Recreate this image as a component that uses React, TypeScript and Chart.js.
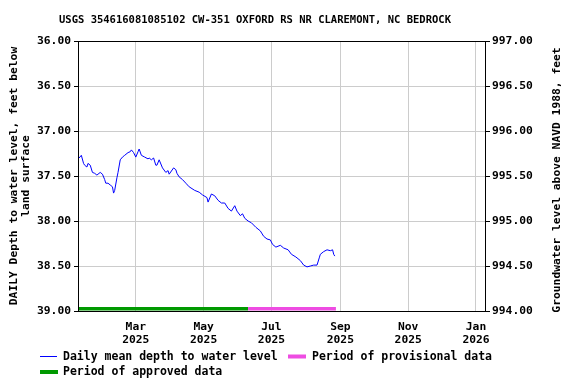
import React, { useEffect, useRef } from 'react';
import { Chart, registerables } from 'chart.js';

Chart.register(...registerables);

// ---- Data ----
const titleText = 'USGS 354616081085102 CW-351 OXFORD RS NR CLAREMONT, NC BEDROCK';
const leftAxisTitle = ['DAILY Depth to water level, feet below', 'land surface'];
const rightAxisTitle = 'Groundwater level above NAVD 1988, feet';

const dates = [
  '2025-01-09', '2025-01-11', '2025-01-13', '2025-01-14', '2025-01-16', '2025-01-17', '2025-01-19', '2025-01-21',
  '2025-01-23', '2025-01-25', '2025-01-28', '2025-01-30', '2025-02-01', '2025-02-02', '2025-02-04', '2025-02-06',
  '2025-02-08', '2025-02-09', '2025-02-10', '2025-02-12', '2025-02-13', '2025-02-15', '2025-02-17', '2025-02-19',
  '2025-02-22', '2025-02-24', '2025-02-25', '2025-02-27', '2025-03-01', '2025-03-03', '2025-03-04', '2025-03-06',
  '2025-03-09', '2025-03-12', '2025-03-13', '2025-03-15', '2025-03-17', '2025-03-19', '2025-03-20', '2025-03-22',
  '2025-03-25', '2025-03-28', '2025-03-30', '2025-03-31', '2025-04-04', '2025-04-06', '2025-04-07', '2025-04-09',
  '2025-04-12', '2025-04-15', '2025-04-18', '2025-04-23', '2025-04-27', '2025-04-30', '2025-05-04', '2025-05-05',
  '2025-05-08', '2025-05-11', '2025-05-14', '2025-05-17', '2025-05-20', '2025-05-23', '2025-05-26', '2025-05-29',
  '2025-05-31', '2025-06-03', '2025-06-05', '2025-06-07', '2025-06-10', '2025-06-13', '2025-06-17', '2025-06-21',
  '2025-06-24', '2025-06-27', '2025-06-30', '2025-07-02', '2025-07-05', '2025-07-09', '2025-07-12', '2025-07-16',
  '2025-07-19', '2025-07-23', '2025-07-27', '2025-07-30', '2025-08-02', '2025-08-05', '2025-08-08', '2025-08-11',
  '2025-08-13', '2025-08-14', '2025-08-17', '2025-08-20', '2025-08-23', '2025-08-25', '2025-08-26', '2025-08-27',
];
const depths = [
  37.30, 37.27, 37.36, 37.38, 37.40, 37.36, 37.38, 37.46,
  37.47, 37.49, 37.46, 37.48, 37.54, 37.58, 37.58, 37.60,
  37.62, 37.69, 37.66, 37.52, 37.46, 37.32, 37.29, 37.27,
  37.24, 37.23, 37.21, 37.24, 37.29, 37.23, 37.20, 37.27,
  37.29, 37.31, 37.30, 37.32, 37.30, 37.38, 37.38, 37.32,
  37.41, 37.46, 37.44, 37.48, 37.41, 37.43, 37.47, 37.51,
  37.54, 37.58, 37.62, 37.66, 37.68, 37.71, 37.74, 37.79,
  37.70, 37.72, 37.77, 37.80, 37.80, 37.86, 37.89, 37.83,
  37.89, 37.94, 37.92, 37.97, 38.00, 38.02, 38.07, 38.11,
  38.17, 38.20, 38.21, 38.26, 38.29, 38.27, 38.30, 38.32,
  38.37, 38.40, 38.44, 38.49, 38.51, 38.50, 38.49, 38.49,
  38.41, 38.37, 38.34, 38.32, 38.33, 38.32, 38.37, 38.39,
];

const approvedPeriod = ['2025-01-08', '2025-06-10'];
const provisionalPeriod = ['2025-06-10', '2025-08-28'];
const periodLevel = 38.975;

const xRange = ['2025-01-08', '2026-01-10'];
const tickDates = ['2025-03-01', '2025-05-01', '2025-07-01', '2025-09-01', '2025-11-01', '2026-01-01'];
const tickLabels = [['Mar', '2025'], ['May', '2025'], ['Jul', '2025'], ['Sep', '2025'], ['Nov', '2025'], ['Jan', '2026']];

const depthRange = [36, 39];
const elevationRange = [994, 997];
const tickStep = 0.5;

const legendLabels = ['Daily mean depth to water level', 'Period of provisional data', 'Period of approved data'];

// ---- Helpers ----
const day = (s: string) => {
  const [y, m, d] = s.split('-').map(Number);
  return Date.UTC(y, m - 1, d) / 86400000;
};

const FONT = '"DejaVu Sans Mono", monospace';
const BLUE = '#0000ff';
const PINK = '#ee4ce2';
const GREEN = '#009900';

export default function App() {
  const ref = useRef<HTMLCanvasElement | null>(null);

  useEffect(() => {
    document.body.style.margin = '0';
    const canvas = ref.current;
    if (!canvas) return;

    const decorPlugin = {
      id: 'decor',
      afterDraw(chart: any) {
        const ctx = chart.ctx as CanvasRenderingContext2D;
        const a = chart.chartArea;
        ctx.save();
        // frame
        ctx.strokeStyle = '#000';
        ctx.lineWidth = 1;
        ctx.strokeRect(a.left + 0.5, a.top + 0.5, a.right - a.left - 1, a.bottom - a.top);
        ctx.fillStyle = '#000';
        // title
        ctx.font = `bold 10.5px ${FONT}`;
        ctx.textAlign = 'center';
        ctx.textBaseline = 'middle';
        ctx.fillText(titleText, 255, 20);
        // left axis title
        ctx.font = `bold 11.3px ${FONT}`;
        const cy = (a.top + a.bottom) / 2;
        ctx.save();
        ctx.translate(14, cy);
        ctx.rotate(-Math.PI / 2);
        ctx.fillText(leftAxisTitle[0], 0, 0);
        ctx.fillText(leftAxisTitle[1], 0, 12);
        ctx.restore();
        // right axis title
        ctx.save();
        ctx.translate(557, cy + 4);
        ctx.rotate(-Math.PI / 2);
        ctx.fillText(rightAxisTitle, 0, 0);
        ctx.restore();
        // legend
        ctx.font = `bold 11.5px ${FONT}`;
        ctx.textAlign = 'left';
        ctx.strokeStyle = BLUE;
        ctx.lineWidth = 1;
        ctx.beginPath();
        ctx.moveTo(40, 356.5);
        ctx.lineTo(57, 356.5);
        ctx.stroke();
        ctx.fillText(legendLabels[0], 63, 357);
        ctx.fillStyle = PINK;
        ctx.fillRect(288, 354.5, 18, 4);
        ctx.fillStyle = '#000';
        ctx.fillText(legendLabels[1], 312, 357);
        ctx.fillStyle = GREEN;
        ctx.fillRect(40, 370, 18, 4);
        ctx.fillStyle = '#000';
        ctx.fillText(legendLabels[2], 63, 372.5);
        ctx.restore();
      },
    };

    const chart = new Chart(canvas, {
      type: 'line',
      data: {
        datasets: [
          {
            label: legendLabels[0],
            data: dates.map((d, i) => ({ x: day(d), y: depths[i] })),
            borderColor: BLUE,
            borderWidth: 1,
            pointRadius: 0,
            tension: 0,
            yAxisID: 'y',
          },
          {
            label: legendLabels[1],
            data: provisionalPeriod.map((d) => ({ x: day(d), y: periodLevel })),
            borderColor: PINK,
            borderWidth: 3.5,
            pointRadius: 0,
            borderCapStyle: 'butt',
            yAxisID: 'y',
          },
          {
            label: legendLabels[2],
            data: approvedPeriod.map((d) => ({ x: day(d), y: periodLevel })),
            borderColor: GREEN,
            borderWidth: 3.5,
            pointRadius: 0,
            borderCapStyle: 'butt',
            yAxisID: 'y',
          },
        ],
      },
      options: {
        responsive: false,
        animation: false,
        events: [],
        layout: { padding: { top: 41, left: 0, right: 0, bottom: 0 } },
        plugins: {
          legend: { display: false },
          title: { display: false },
          tooltip: { enabled: false },
        },
        scales: {
          x: {
            type: 'linear',
            min: day(xRange[0]),
            max: day(xRange[1]),
            afterBuildTicks: (scale: any) => {
              scale.ticks = tickDates.map((d) => ({ value: day(d) }));
            },
            afterFit: (scale: any) => {
              scale.height = 73;
            },
            grid: { color: '#cccccc', lineWidth: 1, tickLength: 0, drawTicks: false },
            border: { display: false },
            ticks: {
              autoSkip: false,
              maxRotation: 0,
              padding: 10,
              color: '#000',
              font: { family: FONT, size: 11.3, weight: 'bold', lineHeight: 1.1 },
              callback: (v: any) => {
                const i = tickDates.findIndex((d) => day(d) === v);
                return i >= 0 ? tickLabels[i] : '';
              },
            },
          },
          y: {
            position: 'left',
            reverse: true,
            min: depthRange[0],
            max: depthRange[1],
            afterFit: (scale: any) => {
              scale.width = 78;
            },
            grid: { color: '#cccccc', lineWidth: 1, tickLength: 4, tickColor: '#000' },
            border: { display: false },
            ticks: {
              stepSize: tickStep,
              padding: 3,
              color: '#000',
              font: { family: FONT, size: 11.3, weight: 'bold' },
              callback: (v: any) => Number(v).toFixed(2),
            },
          },
          y2: {
            position: 'right',
            min: elevationRange[0],
            max: elevationRange[1],
            afterFit: (scale: any) => {
              scale.width = 90;
            },
            grid: { drawOnChartArea: false, tickLength: 4, tickColor: '#000' },
            border: { display: false },
            ticks: {
              stepSize: tickStep,
              padding: 2,
              color: '#000',
              font: { family: FONT, size: 11.3, weight: 'bold' },
              callback: (v: any) => Number(v).toFixed(2),
            },
          },
        },
      },
      plugins: [decorPlugin],
    } as any);

    return () => chart.destroy();
  }, []);

  return (
    <div style={{ width: 576, height: 384, background: '#fff' }}>
      <canvas ref={ref} width={576} height={384} style={{ display: 'block' }} />
    </div>
  );
}
